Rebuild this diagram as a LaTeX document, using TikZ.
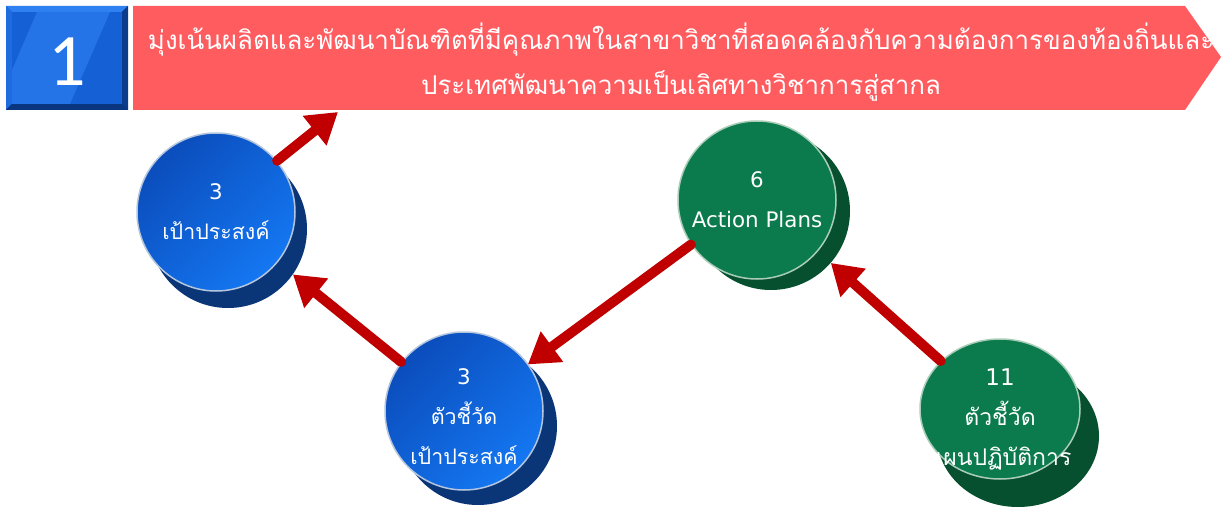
\documentclass[tikz,border=0pt]{standalone}
\usepackage{fontspec}
\newfontfamily\thaifont[Script=Thai]{Loma}
\newfontfamily\latfont{DejaVu Sans}
\newfontfamily\numfont{Carlito}
\usetikzlibrary{arrows.meta,shapes.geometric}
\definecolor{bannerred}{HTML}{FF5C60}
\definecolor{arrowred}{HTML}{C00000}
\definecolor{bluelt}{HTML}{1477F2}
\definecolor{bluedk}{HTML}{0B4DBC}
\definecolor{blueshadow}{HTML}{0A3678}
\definecolor{greenmain}{HTML}{0B7A4C}
\definecolor{greenshadow}{HTML}{07502F}
\definecolor{ringblue}{HTML}{B4C6DE}
\definecolor{ringgreen}{HTML}{A9CDB8}
\definecolor{sqbase}{HTML}{0E4CA8}
\definecolor{sqtop}{HTML}{2F80F0}
\definecolor{sqleft}{HTML}{1F6CE0}
\definecolor{sqright}{HTML}{0B3C8C}
\definecolor{sqbottom}{HTML}{0A3680}
\definecolor{sqface}{HTML}{1460D4}
\definecolor{sqband}{HTML}{2474E8}
\newcommand\lat[1]{{\latfont #1}}
\begin{document}
\begin{tikzpicture}[x=1pt,y=-1pt,
  bubtext/.style={text=white,font=\thaifont\fontsize{21.4}{40}\selectfont,align=center},
  bigtext/.style={text=white,font=\thaifont\fontsize{23}{40}\selectfont,align=center},
  bubble/.style={circle,minimum size=158pt,inner sep=0pt,line width=1.5pt,bubtext},
  bluebub/.style={bubble,draw=ringblue,left color=bluedk,right color=bluelt,shading angle=45},
  greenbub/.style={bubble,draw=ringgreen,fill=greenmain},
  blueshad/.style={circle,minimum size=158pt,inner sep=0pt,fill=blueshadow},
  greenshad/.style={circle,minimum size=158pt,inner sep=0pt,fill=greenshadow},
  conn/.style={draw=arrowred,line width=10pt,line cap=round,-{Triangle[width=36pt,length=30pt]}},
]
\useasboundingbox (0,0) rectangle (1221,508);
\fill[white] (0,0) rectangle (1221,508);

% numbered square with bevel
\fill[sqbase] (6,6) rectangle (128,110);
\fill[sqtop] (6,6) -- (128,6) -- (122,12) -- (12,12) -- cycle;
\fill[sqleft] (6,6) -- (12,12) -- (12,104) -- (6,110) -- cycle;
\fill[sqright] (128,6) -- (128,110) -- (122,104) -- (122,12) -- cycle;
\fill[sqbottom] (6,110) -- (128,110) -- (122,104) -- (12,104) -- cycle;
\fill[sqface] (12,12) rectangle (122,104);
\fill[sqband] (37,12) -- (110,12) -- (70,104) -- (12,104) -- (12,70) -- cycle;
\node[text=white,font=\numfont\fontsize{74}{74}\selectfont] (num) at (67,62) {1};

% banner
\fill[bannerred] (133,6) -- (1185,6) -- (1221,57) -- (1185,110) -- (133,110) -- cycle;
\node[text=white,font=\thaifont\fontsize{25.9}{45}\selectfont,align=center] (banner) at (681,62)
  {มุ่งเน้นผลิตและพัฒนาบัณฑิตที่มีคุณภาพในสาขาวิชาที่สอดคล้องกับความต้องการของท้องถิ่นและ\\ประเทศพัฒนาความเป็นเลิศทางวิชาการสู่สากล};
\coordinate (bannertip) at (338,112);

% shadows
\node[blueshad] (c1s) at (228,229) {};
\node[blueshad] (c2s) at (478,426) {};
\node[greenshad] (c3s) at (771,211) {};
\node[ellipse,minimum width=162pt,minimum height=142pt,inner sep=0pt,fill=greenshadow] (c4s) at (1018,436) {};

% bubbles
\node[bluebub] (c1) at (216,212) {\lat{3}\\เป้าประสงค์};
\node[bluebub] (c2) at (464,411) {};
\node[bubtext] (c2t) at (464,417) {\lat{3}\\ตัวชี้วัด\\เป้าประสงค์};
\node[greenbub] (c3) at (757,200) {\lat{6}\\\lat{Action Plans}};
\node[greenbub,ellipse,minimum width=160pt,minimum height=140pt] (c4) at (1000,409) {};
\node[bigtext] (c4t) at (1000,419) {\lat{11}\\ตัวชี้วัด\\แผนปฏิบัติการ};

% connectors
\draw[conn] (c1.40) -- (bannertip);
\draw[conn] (c2.142) -- (c1s.-35);
\draw[conn] (c3.214) -- (c2s.51);
\draw[conn] (c4.141) -- (c3s.-41);
\end{tikzpicture}
\end{document}
